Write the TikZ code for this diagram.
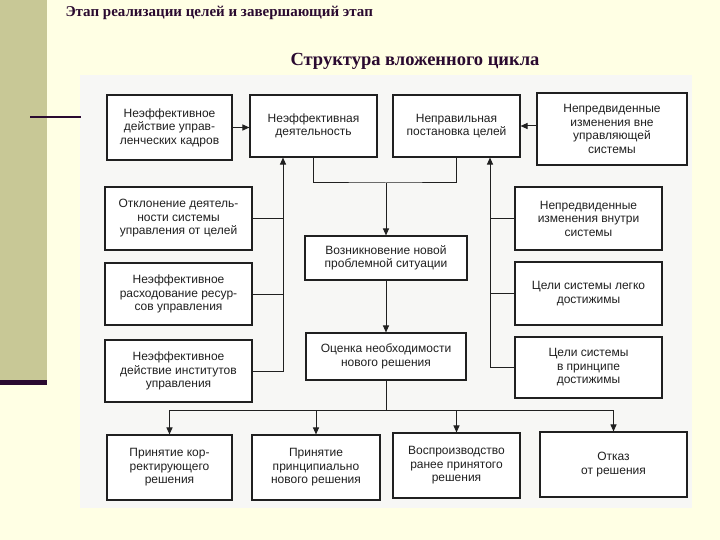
\documentclass[tikz,border=0pt]{standalone}
\usepackage{fontspec}
\setmainfont{Liberation Serif}
\newfontfamily\boxfont{Liberation Sans}
\usetikzlibrary{arrows.meta}
\definecolor{bg}{HTML}{FFFFE4}
\definecolor{band}{HTML}{C8C896}
\definecolor{dk}{HTML}{2A0A30}
\definecolor{pic}{HTML}{F7F7F5}
\definecolor{ink}{HTML}{202020}
\tikzset{
  box/.style={draw=ink, line width=1.1pt, fill=white, align=center, inner sep=1pt,
    font=\boxfont\fontsize{12}{13.5}\selectfont, text=ink},
  conn/.style={draw=ink, line width=1pt},
  arr/.style={conn, -{Triangle[length=7pt,width=6pt]}},
}
\begin{document}
\begin{tikzpicture}[x=1pt,y=-1pt]
\useasboundingbox (0,0) rectangle (720,540);
\fill[bg] (0,0) rectangle (720,540);
\fill[band] (0,0) rectangle (47,382);
\fill[dk] (0,380) rectangle (47,385);
\fill[pic] (80,75) rectangle (692,508);
\draw[dk, line width=1.5pt] (30,117) -- (81,117);
\node[anchor=west, font=\bfseries\fontsize{15}{17}\selectfont, text=dk] (t1) at (62,13) {Этап реализации целей и завершающий этап};
\node[font=\bfseries\fontsize{18.5}{21}\selectfont, text=dk] (t2) at (415,61) {Структура вложенного цикла};

\node[box, minimum width=125, minimum height=65] (A1) at (169.5,127.5) {Неэффективное\\действие управ-\\ленческих кадров};
\node[box, minimum width=127, minimum height=62] (A2) at (313.5,126) {Неэффективная\\деятельность};
\node[box, minimum width=127, minimum height=62] (A3) at (456.5,126) {Неправильная\\постановка целей};
\node[box, minimum width=150, minimum height=72] (A4) at (612,129) {Непредвиденные\\изменения вне\\управляющей\\системы};
\node[box, minimum width=147, minimum height=63] (L1) at (178.5,218.5) {Отклонение деятель-\\ности системы\\управления от целей};
\node[box, minimum width=147, minimum height=62] (L2) at (178.5,294) {Неэффективное\\расходование ресур-\\сов управления};
\node[box, minimum width=147, minimum height=62] (L3) at (178.5,371) {Неэффективное\\действие институтов\\управления};
\node[box, minimum width=147, minimum height=63] (R1) at (588.5,218.5) {Непредвиденные\\изменения внутри\\системы};
\node[box, minimum width=147, minimum height=63] (R2) at (588.5,293.5) {Цели системы легко\\достижимы};
\node[box, minimum width=147, minimum height=61] (R3) at (588.5,367.5) {Цели системы\\в принципе\\достижимы};
\node[box, minimum width=162, minimum height=44] (C1) at (386,258) {Возникновение новой\\проблемной ситуации};
\node[box, minimum width=160, minimum height=47] (C2) at (386,356.5) {Оценка необходимости\\нового решения};
\node[box, minimum width=125, minimum height=65] (B1) at (169.5,467.5) {Принятие кор-\\ректирующего\\решения};
\node[box, minimum width=128, minimum height=65] (B2) at (316,467.5) {Принятие\\принципиально\\нового решения};
\node[box, minimum width=127, minimum height=65] (B3) at (456.5,465.5) {Воспроизводство\\ранее принятого\\решения};
\node[box, minimum width=147, minimum height=65] (B4) at (613.5,464.5) {Отказ\\от решения};

\coordinate (sL) at (283,0);
\coordinate (sR) at (490,0);
\coordinate (m) at (386,183);
\coordinate (b) at (386,410);

\draw[arr] (A1.east) -- (A1.east -| A2.west);
\draw[arr] (A4.west |- A3.east) -- (A3.east);
\draw[conn] (L1.east) -- (L1.east -| sL);
\draw[conn] (L2.east) -- (L2.east -| sL);
\draw[arr] (L3.east) -- (L3.east -| sL) -- (A2.south -| sL);
\draw[conn] (R1.west) -- (R1.west -| sR);
\draw[conn] (R2.west) -- (R2.west -| sR);
\draw[arr] (R3.west) -- (R3.west -| sR) -- (A3.south -| sR);
\draw[conn] (A2.south) |- (m) -| (A3.south);
\draw[arr] (m) -- (C1.north);
\draw[arr] (C1.south) -- (C2.north);
\draw[conn] (C2.south) -- (b);
\draw[conn] (B1.north |- b) -- (B4.north |- b);
\foreach \n in {B1,B2,B3,B4} \draw[arr] (\n.north |- b) -- (\n.north);
\end{tikzpicture}
\end{document}
